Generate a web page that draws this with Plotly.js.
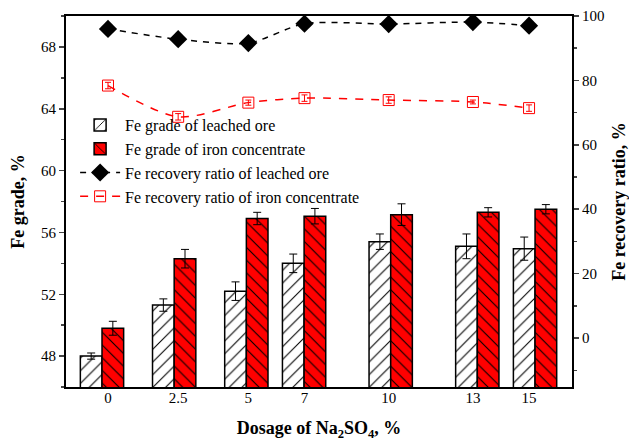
<!DOCTYPE html>
<html>
<head>
<meta charset="utf-8">
<script src="https://cdn.plot.ly/plotly-3.0.1.min.js"></script>
<style>html,body{margin:0;padding:0;background:#fff}#chart{width:629px;height:446px}</style>
</head>
<body>
<div id="chart"></div>
<script>
// Data
const dosage = [0, 2.5, 5, 7, 10, 13, 15];
const tickLabels = ['0', '2.5', '5', '7', '10', '13', '15'];
const gradeLeached = [48.0, 51.3, 52.2, 54.0, 55.4, 55.1, 54.95];
const gradeLeachedErr = [0.2, 0.4, 0.6, 0.6, 0.5, 0.8, 0.75];
const gradeConc = [49.8, 54.3, 56.9, 57.05, 57.15, 57.3, 57.5];
const gradeConcErr = [0.45, 0.6, 0.4, 0.5, 0.7, 0.3, 0.3];
const recovLeached = [96.0, 92.8, 91.6, 97.6, 97.5, 98.1, 97.0];
const recovConc = [78.4, 68.7, 73.1, 74.5, 73.9, 73.3, 71.4];
const recovConcErr = [1.0, 1.0, 0.8, 1.0, 1.0, 0.6, 1.0];

const serif = "'Liberation Serif', 'Times New Roman', serif";

const traces = [
  {
    type: 'bar', x: dosage, y: gradeLeached, xaxis: 'x', yaxis: 'y',
    name: 'Fe grade of leached ore',
    width: 0.75, offset: -0.75,
    marker: {color: '#ffffff', line: {color: '#000', width: 1.5},
             pattern: {shape: '/', fgcolor: '#000', bgcolor: '#fff', size: 9, solidity: 0.12}},
    error_y: {type: 'data', array: gradeLeachedErr, visible: true, color: '#000', thickness: 1, width: 4}
  },
  {
    type: 'bar', x: dosage, y: gradeConc, xaxis: 'x', yaxis: 'y',
    name: 'Fe grade of iron concentrate',
    width: 0.75, offset: 0,
    marker: {color: '#ff0000', line: {color: '#000', width: 1.5},
             pattern: {shape: '\\', fgcolor: '#000', bgcolor: '#ff0000', size: 9, solidity: 0.12}},
    error_y: {type: 'data', array: gradeConcErr, visible: true, color: '#000', thickness: 1, width: 4}
  },
  {
    type: 'scatter', mode: 'lines+markers', x: dosage, y: recovLeached, xaxis: 'x2', yaxis: 'y2',
    name: 'Fe recovery ratio of leached ore',
    line: {color: '#000', width: 1.5, dash: '6px,6px', shape: 'spline', smoothing: 0.8},
    marker: {symbol: 'diamond', size: 14, color: '#000'}
  },
  {
    type: 'scatter', mode: 'lines+markers', x: dosage, y: recovConc, xaxis: 'x2', yaxis: 'y2',
    name: 'Fe recovery ratio of iron concentrate',
    line: {color: '#ff0000', width: 1.5, dash: '8px,8px', shape: 'spline', smoothing: 0.8},
    marker: {symbol: 'square-open', size: 11, color: '#ff0000', line: {width: 1, color: '#ff0000'}},
    error_y: {type: 'data', array: recovConcErr, visible: true, color: '#ff0000', thickness: 1, width: 3}
  }
];

const layout = {
  width: 629, height: 446,
  margin: {l: 66, r: 57, t: 16, b: 59},
  paper_bgcolor: '#fff', plot_bgcolor: '#fff',
  barmode: 'overlay',
  showlegend: true,
  font: {family: serif, color: '#000', size: 14},
  legend: {x: 0.018, y: 0.752, xanchor: 'left', yanchor: 'top', bgcolor: 'rgba(0,0,0,0)',
           font: {family: serif, size: 16, color: '#000'}, tracegroupgap: 0, itemwidth: 40,
           traceorder: 'normal'},
  xaxis: {
    range: [-1.247, 16.28], showticklabels: false, ticks: '', showgrid: false, zeroline: false,
    showline: true, linecolor: '#000', linewidth: 2, mirror: true
  },
  xaxis2: {
    overlaying: 'x', side: 'bottom', range: [-1.496, 16.53],
    tickvals: dosage, ticktext: tickLabels, ticks: '', showgrid: false, zeroline: false, showline: false,
    tickfont: {family: serif, size: 15, color: '#000'},
    title: {text: '<b>Dosage of Na<sub>2</sub>SO<sub>4</sub>, %</b>', font: {family: serif, size: 18, color: '#000'}, standoff: 16}
  },
  yaxis: {
    range: [46, 70], tickvals: [48, 52, 56, 60, 64, 68], ticks: 'outside', ticklen: 5, tickwidth: 1.5,
    minor: {dtick: 2, tick0: 0, ticks: 'outside', ticklen: 3, tickwidth: 1.5},
    showgrid: false, zeroline: false, showline: true, linecolor: '#000', linewidth: 2,
    tickfont: {family: serif, size: 15, color: '#000'},
    title: {text: '<b>Fe grade, %</b>', font: {family: serif, size: 18, color: '#000'}, standoff: 12}
  },
  yaxis2: {
    overlaying: 'y', side: 'right', anchor: 'x',
    range: [-15.2, 100], tickvals: [0, 20, 40, 60, 80, 100], ticks: 'outside', ticklen: 5, tickwidth: 1.5,
    minor: {dtick: 10, tick0: 0, ticks: 'outside', ticklen: 3, tickwidth: 1.5},
    showgrid: false, zeroline: false, showline: true, linecolor: '#000', linewidth: 2,
    tickfont: {family: serif, size: 15, color: '#000'},
    title: {text: '<b>Fe recovery ratio, %</b>', font: {family: serif, size: 18, color: '#000'}, standoff: 12}
  }
};

Plotly.newPlot('chart', traces, layout, {displayModeBar: false, staticPlot: true});
</script>
</body>
</html>
